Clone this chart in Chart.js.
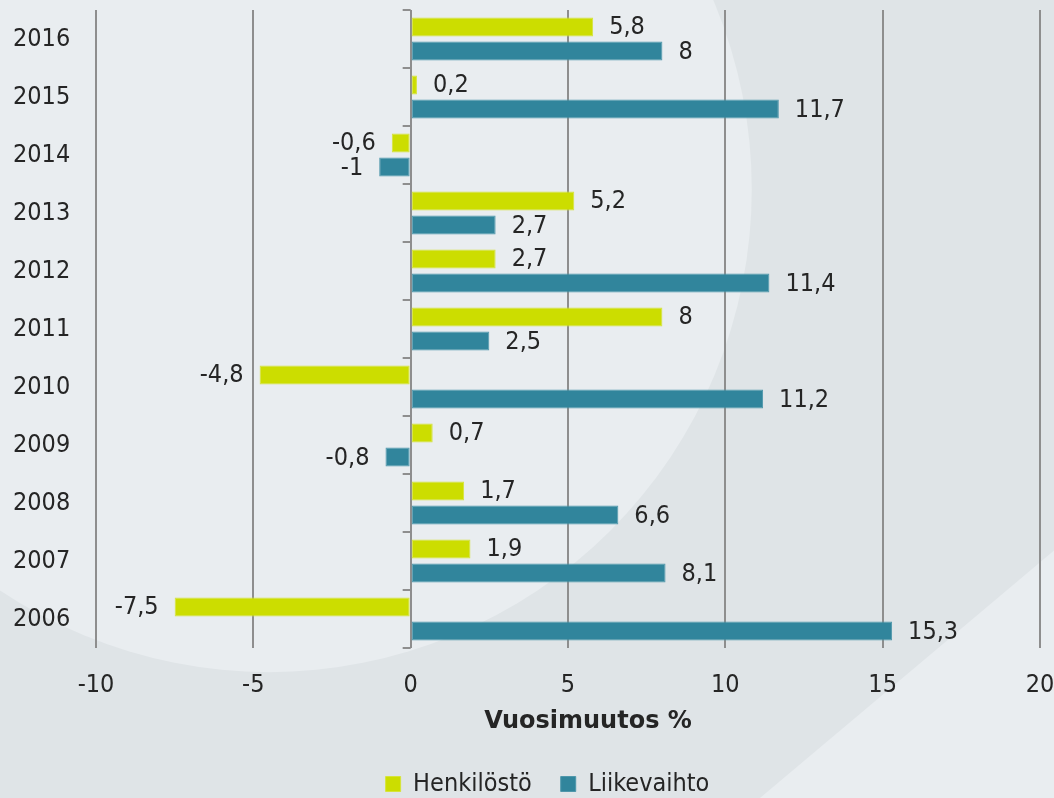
<!DOCTYPE html>
<html><head><meta charset="utf-8">
<script src="https://cdn.jsdelivr.net/npm/chart.js@4/dist/chart.umd.min.js"></script>
<style>html,body{margin:0;padding:0;background:#dfe4e7;}#wrap{width:1054px;height:798px;position:relative;}</style>
</head><body><div id="wrap"><canvas id="c"></canvas></div>
<script>
const years = ['2016','2015','2014','2013','2012','2011','2010','2009','2008','2007','2006'];
const henkilosto = [5.8, 0.2, -0.6, 5.2, 2.7, 8, -4.8, 0.7, 1.7, 1.9, -7.5];
const liikevaihto = [8, 11.7, -1, 2.7, 11.4, 2.5, 11.2, -0.8, 6.6, 8.1, 15.3];
const seriesNames = ['Henkilöstö', 'Liikevaihto'];
const xMin = -10, xMax = 20, xStep = 5;
const axisTitle = 'Vuosimuutos %';

const FONT = "'DejaVu Sans Condensed', 'DejaVu Sans', sans-serif";
const TEXT = '#252525';
const GRID = '#8e8e8e';
const PAD_LEFT = 55;

const bgPlugin = {
  id: 'bg',
  beforeDraw(chart) {
    const ctx = chart.ctx, W = chart.width, H = chart.height;
    ctx.save();
    ctx.fillStyle = '#dfe4e7';
    ctx.fillRect(0, 0, W, H);
    ctx.fillStyle = '#e9edf0';
    ctx.beginPath();
    ctx.arc(W * 0.255, H * 0.237, 483, 0, Math.PI * 2);
    ctx.fill();
    ctx.beginPath();
    ctx.moveTo(W * 0.721, H);
    ctx.lineTo(W, H * 0.69);
    ctx.lineTo(W, H);
    ctx.closePath();
    ctx.fill();
    ctx.restore();
  }
};

const axisTicksPlugin = {
  id: 'axisTicks',
  beforeDatasetsDraw(chart) {
    const ctx = chart.ctx, xs = chart.scales.x, ys = chart.scales.y;
    const x0 = xs.getPixelForValue(0);
    ctx.save();
    ctx.strokeStyle = GRID;
    ctx.lineWidth = 2;
    ctx.beginPath();
    for (let i = 0; i <= years.length; i++) {
      const y = Math.round(ys.getPixelForValue(i - 0.5));
      ctx.moveTo(x0 - 8, y);
      ctx.lineTo(x0, y);
    }
    ctx.stroke();
    ctx.restore();
  }
};

const valueLabelPlugin = {
  id: 'valueLabels',
  afterDatasetsDraw(chart) {
    const ctx = chart.ctx;
    ctx.save();
    ctx.font = '25px ' + FONT;
    ctx.fillStyle = TEXT;
    ctx.textBaseline = 'middle';
    chart.data.datasets.forEach((ds, di) => {
      const meta = chart.getDatasetMeta(di);
      meta.data.forEach((el, i) => {
        const v = ds.data[i];
        const txt = String(v).replace('.', ',');
        if (v >= 0) { ctx.textAlign = 'left'; ctx.fillText(txt, el.x + 16, el.y + 1); }
        else { ctx.textAlign = 'right'; ctx.fillText(txt, el.x - 16, el.y + 1); }
      });
    });
    ctx.restore();
  }
};

const axisTitlePlugin = {
  id: 'axisTitle',
  afterDraw(chart) {
    const ctx = chart.ctx, xs = chart.scales.x;
    ctx.save();
    ctx.font = "bold 24px 'DejaVu Sans', sans-serif";
    ctx.fillStyle = TEXT;
    ctx.textAlign = 'center';
    ctx.textBaseline = 'middle';
    ctx.fillText(axisTitle, xs.getPixelForValue(xMin + (xMax - xMin) * 0.5) + 20, xs.bottom - 21);
    ctx.restore();
  }
};

new Chart(document.getElementById('c'), {
  type: 'bar',
  data: {
    labels: years,
    datasets: [
      { label: seriesNames[0], data: henkilosto, backgroundColor: '#ccdd00', borderColor: '#d6e43a', borderWidth: 1, borderSkipped: false },
      { label: seriesNames[1], data: liikevaihto, backgroundColor: '#31859c', borderColor: '#4f97ab', borderWidth: 1, borderSkipped: false }
    ]
  },
  options: {
    indexAxis: 'y',
    responsive: true,
    maintainAspectRatio: false,
    animation: false,
    devicePixelRatio: 1,
    categoryPercentage: 0.83,
    barPercentage: 0.79,
    layout: { padding: { top: 10, right: 14, left: PAD_LEFT, bottom: 0 } },
    scales: {
      x: {
        min: xMin, max: xMax,
        ticks: { stepSize: xStep, color: TEXT, font: { family: FONT, size: 25 }, padding: 22 },
        grid: { color: GRID, lineWidth: 2, drawTicks: false },
        border: { display: false },
        title: { display: false, text: axisTitle },
        afterFit(s) { s.height = 94.5; s.paddingLeft = 0; s.paddingRight = 0; }
      },
      y: {
        ticks: { color: TEXT, font: { family: FONT, size: 25 }, mirror: true, padding: -83 },
        grid: { display: false, drawTicks: false },
        border: { display: false },
        afterFit(s) { s.width = 96 - PAD_LEFT; s.paddingTop = 0; s.paddingBottom = 0; }
      }
    },
    plugins: {
      legend: {
        position: 'bottom',
        maxHeight: 55.5,
        labels: { boxWidth: 15, boxHeight: 15, padding: 29, color: TEXT, font: { family: FONT, size: 25 } }
      },
      tooltip: { enabled: false }
    }
  },
  plugins: [bgPlugin, axisTicksPlugin, valueLabelPlugin, axisTitlePlugin]
});
</script></body></html>
